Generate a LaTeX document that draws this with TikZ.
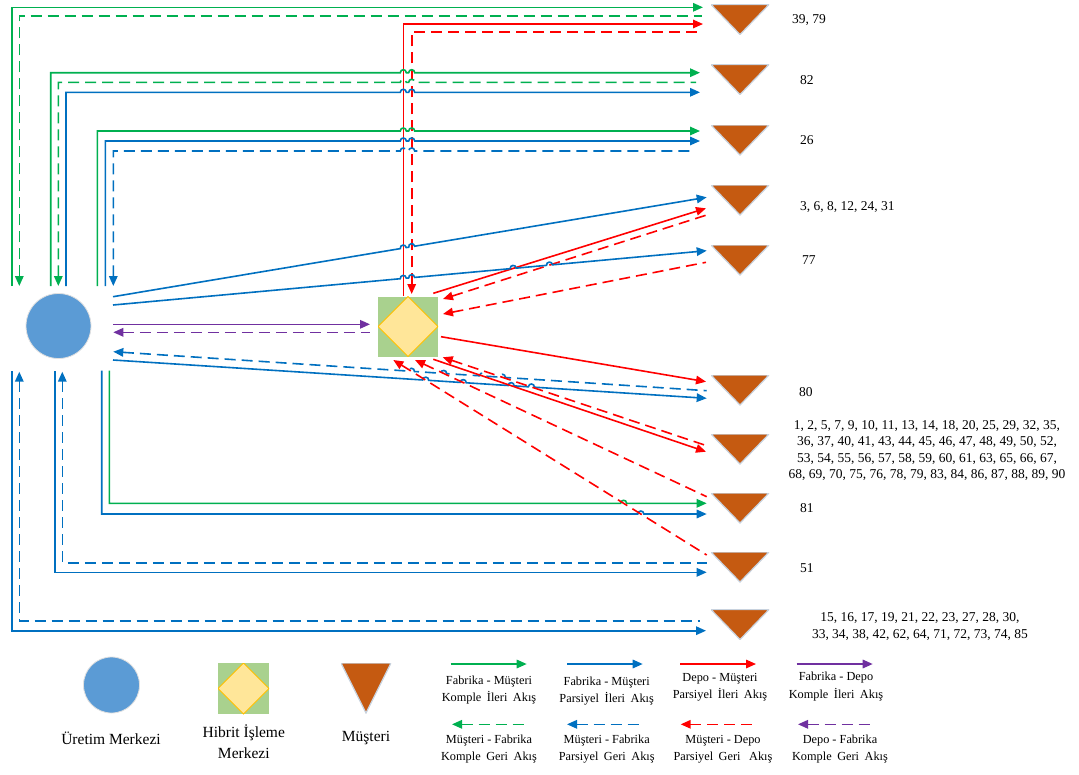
\documentclass[tikz,border=0pt]{standalone}
\usepackage{fontspec}
\setmainfont{Liberation Serif}
\usetikzlibrary{arrows.meta,calc}

\definecolor{cgreen}{HTML}{00B050}
\definecolor{cblue}{HTML}{0070C0}
\definecolor{cred}{HTML}{FF0000}
\definecolor{cpurple}{HTML}{7030A0}
\definecolor{fabfill}{HTML}{5B9BD5}
\definecolor{hybfill}{HTML}{A9D18E}
\definecolor{diafill}{HTML}{FFE699}
\definecolor{diaedge}{HTML}{FFC000}
\definecolor{custfill}{HTML}{C55A11}
\definecolor{custedge}{HTML}{C8D2DE}

\newcommand\legsp{\hspace{0.45em}}

\begin{document}
\begin{tikzpicture}[x=1pt,y=-1pt,
  flow/.style={line width=1.6pt},
  tipF/.style={-{Triangle[length=10pt,width=8.5pt]}},
  tipB/.style={{Triangle[length=10pt,width=8.5pt]}-},
  dsh/.style={dash pattern=on 11pt off 6pt},
  gF/.style={flow,tipF,color=cgreen},
  gB/.style={flow,tipB,dsh,color=cgreen},
  bF/.style={flow,tipF,color=cblue},
  bB/.style={flow,tipB,dsh,color=cblue},
  rF/.style={flow,tipF,color=cred},
  rB/.style={flow,tipB,dsh,color=cred},
  pF/.style={flow,tipF,color=cpurple},
  pB/.style={flow,tipB,dsh,color=cpurple},
  hop/.style n args={3}{insert path={-- ($(#1)!3pt!(#2)$) to[bend left=90,looseness=1.7] ($(#1)!3pt!(#3)$)}},
  fab/.style={circle, minimum size=65pt, inner sep=0, fill=fabfill, draw=black!12, line width=0.8pt},
  hyb/.style={rectangle, minimum size=60pt, inner sep=0, fill=hybfill,
    path picture={\filldraw[fill=diafill, draw=diaedge, line width=1pt]
      (path picture bounding box.north) -- (path picture bounding box.east) --
      (path picture bounding box.south) -- (path picture bounding box.west) -- cycle;}},
  cust/.style={rectangle, minimum width=58pt, minimum height=30pt, inner sep=0,
    path picture={\filldraw[fill=custfill, draw=custedge, line width=1.2pt]
      (path picture bounding box.north west) -- (path picture bounding box.north east) --
      (path picture bounding box.south) -- cycle;}},
  lab/.style={font=\fontsize{13.5}{16.5}\selectfont, inner sep=0},
  leg/.style={font=\fontsize{12.3}{17.3}\selectfont, inner sep=0, align=center},
  shp/.style={font=\fontsize{15.5}{20.7}\selectfont, inner sep=0, align=center},
]
\useasboundingbox (0,0) rectangle (1079,774);
\fill[white] (0,0) rectangle (1079,774);

% ---------- main nodes ----------
\node[fab] (fab) at (58.5,326) {};
\node[hyb] (hyb) at (408,326.5) {};
\node[cust] (m1) at (740,19.5) {};
\node[cust] (m2) at (740,79.5) {};
\node[cust] (m3) at (740,140) {};
\node[cust] (m4) at (740,200) {};
\node[cust] (m5) at (740,260) {};
\node[cust] (m6) at (740,390) {};
\node[cust] (m7) at (740,449) {};
\node[cust] (m8) at (740,508) {};
\node[cust] (m9) at (740,567) {};
\node[cust] (m10) at (740,624.5) {};

% ---------- customer labels ----------
\node[lab, anchor=west] (t1) at (792,20) {39, 79};
\node[lab, anchor=west] (t2) at (800,80) {82};
\node[lab, anchor=west] (t3) at (800,140) {26};
\node[lab, anchor=west] (t4) at (800,207) {3, 6, 8, 12, 24, 31};
\node[lab, anchor=west] (t5) at (802,260) {77};
\node[lab, anchor=west] (t6) at (799,392) {80};
\node[lab, align=center] (t7) at (927,450.5) {1, 2, 5, 7, 9, 10, 11, 13, 14, 18, 20, 25, 29, 32, 35,\\36, 37, 40, 41, 43, 44, 45, 46, 47, 48, 49, 50, 52,\\53, 54, 55, 56, 57, 58, 59, 60, 61, 63, 65, 66, 67,\\68, 69, 70, 75, 76, 78, 79, 83, 84, 86, 87, 88, 89, 90};
\node[lab, anchor=west] (t8) at (800,508) {81};
\node[lab, anchor=west] (t9) at (800,568) {51};
\node[lab, align=center] (t10) at (920,626.5) {15, 16, 17, 19, 21, 22, 23, 27, 28, 30,\\33, 34, 38, 42, 62, 64, 71, 72, 73, 74, 85};

% ---------- connector end points ----------
\coordinate (a1s) at (11.7,286);  \coordinate (a1c) at (11.7,7.3);  \coordinate (a1e) at (703,7.3);
\coordinate (a2s) at (19.3,286);  \coordinate (a2c) at (19.3,15.7); \coordinate (a2e) at (702,15.7);
\coordinate (a3s) at (403.3,296); \coordinate (a3c) at (403.3,24);  \coordinate (a3e) at (703,24);
\coordinate (a4s) at (411.7,294); \coordinate (a4c) at (411.7,31.7);\coordinate (a4e) at (702,31.7);

\coordinate (b1s) at (50.7,286); \coordinate (b1c) at (50.7,72.7); \coordinate (b1e) at (700,72.7);
\coordinate (b2s) at (58.3,286); \coordinate (b2c) at (58.3,82.3); \coordinate (b2e) at (696,82.3);
\coordinate (b3s) at (66,286);   \coordinate (b3c) at (66,92.3);   \coordinate (b3e) at (700,92.3);

\coordinate (c1s) at (97.3,286);  \coordinate (c1c) at (97.3,131);  \coordinate (c1e) at (700,131);
\coordinate (c2s) at (105.3,286); \coordinate (c2c) at (105.3,141); \coordinate (c2e) at (700,141);
\coordinate (c3s) at (113.3,286); \coordinate (c3c) at (113.3,151); \coordinate (c3e) at (695,151);

\coordinate (d1s) at (113,296.7); \coordinate (d1e) at (706.7,197.3);
\coordinate (d2s) at (433.3,293.3); \coordinate (d2e) at (706,208.3);
\coordinate (d3s) at (443,299); \coordinate (d3e) at (706.7,215);

\coordinate (e1s) at (113,305); \coordinate (e1e) at (706.7,250.7);
\coordinate (e2s) at (443,314); \coordinate (e2e) at (706,262.3);

\coordinate (f1s) at (113,324.3);   \coordinate (f1e) at (370,324.3);
\coordinate (f2s) at (113.3,332.3); \coordinate (f2e) at (370,332.3);

\coordinate (g1s) at (113.3,351.7); \coordinate (g1e) at (706.7,390.7);
\coordinate (g2s) at (113,360);     \coordinate (g2e) at (706.7,398.3);
\coordinate (g3s) at (441,336.7);   \coordinate (g3e) at (706,381.7);

\coordinate (h1s) at (433.3,359.3); \coordinate (h1e) at (706,451.7);
\coordinate (h2s) at (442.7,357.3); \coordinate (h2e) at (706.7,445.7);

\coordinate (i1s) at (109.3,370.7); \coordinate (i1c) at (109.3,503.3); \coordinate (i1e) at (706.7,503.3);
\coordinate (i2s) at (101.7,370.7); \coordinate (i2c) at (101.7,514);   \coordinate (i2e) at (706.7,514);
\coordinate (i3s) at (415,360);     \coordinate (i3e) at (706.7,496.7);

\coordinate (j1s) at (62.3,371.7); \coordinate (j1c) at (62.3,562.7); \coordinate (j1e) at (706.7,562.7);
\coordinate (j2s) at (55,371);     \coordinate (j2c) at (55,572.3);   \coordinate (j2e) at (706.7,572.3);
\coordinate (j3s) at (393.3,360);  \coordinate (j3e) at (706.7,555);

\coordinate (k1s) at (19.3,371.7); \coordinate (k1c) at (19.3,621);   \coordinate (k1e) at (700,621);
\coordinate (k2s) at (11.7,371);   \coordinate (k2c) at (11.7,630.7); \coordinate (k2e) at (706,630.7);

% ---------- crossing points (line jumps) ----------
\foreach \n in {b1,b2,b3,c1,c2,c3}{
  \coordinate (x\n a) at (\n c -| a3s);
  \coordinate (x\n b) at (\n c -| a4s);
}
\coordinate (xd1a) at (intersection of d1s--d1e and a3s--a3c);
\coordinate (xd1b) at (intersection of d1s--d1e and a4s--a4c);
\coordinate (xe1a) at (intersection of e1s--e1e and a3s--a3c);
\coordinate (xe1b) at (intersection of e1s--e1e and a4s--a4c);
\coordinate (xe1c) at (intersection of e1s--e1e and d2s--d2e);
\coordinate (xe1d) at (intersection of e1s--e1e and d3s--d3e);
\coordinate (xg1a) at (intersection of g1s--g1e and j3s--j3e);
\coordinate (xg1b) at (intersection of g1s--g1e and i3s--i3e);
\coordinate (xg1c) at (intersection of g1s--g1e and h1s--h1e);
\coordinate (xg1d) at (intersection of g1s--g1e and h2s--h2e);
\coordinate (xg2a) at (intersection of g2s--g2e and j3s--j3e);
\coordinate (xg2b) at (intersection of g2s--g2e and i3s--i3e);
\coordinate (xg2c) at (intersection of g2s--g2e and h1s--h1e);
\coordinate (xg2d) at (intersection of g2s--g2e and h2s--h2e);
\coordinate (xi1) at (intersection of i1c--i1e and j3s--j3e);
\coordinate (xi2) at (intersection of i2c--i2e and j3s--j3e);

% ---------- flows: 39, 79 ----------
\draw[gF] (a1s) -- (a1c) -- (a1e);
\draw[gB] (a2s) -- (a2c) -- (a2e);
\draw[rF] (a3s) -- (a3c) -- (a3e);
\draw[rB] (a4s) -- (a4c) -- (a4e);

% ---------- flows: 82 ----------
\draw[gF] (b1s) -- (b1c) [hop={xb1a}{b1c}{b1e}] [hop={xb1b}{b1c}{b1e}] -- (b1e);
\draw[gB] (b2s) -- (b2c) [hop={xb2a}{b2c}{b2e}] [hop={xb2b}{b2c}{b2e}] -- (b2e);
\draw[bF] (b3s) -- (b3c) [hop={xb3a}{b3c}{b3e}] [hop={xb3b}{b3c}{b3e}] -- (b3e);

% ---------- flows: 26 ----------
\draw[gF] (c1s) -- (c1c) [hop={xc1a}{c1c}{c1e}] [hop={xc1b}{c1c}{c1e}] -- (c1e);
\draw[bF] (c2s) -- (c2c) [hop={xc2a}{c2c}{c2e}] [hop={xc2b}{c2c}{c2e}] -- (c2e);
\draw[bB] (c3s) -- (c3c) [hop={xc3a}{c3c}{c3e}] [hop={xc3b}{c3c}{c3e}] -- (c3e);

% ---------- flows: 3, 6, 8, 12, 24, 31 ----------
\draw[bF] (d1s) [hop={xd1a}{d1s}{d1e}] [hop={xd1b}{d1s}{d1e}] -- (d1e);
\draw[rF] (d2s) -- (d2e);
\draw[rB] (d3s) -- (d3e);

% ---------- flows: 77 ----------
\draw[bF] (e1s) [hop={xe1a}{e1s}{e1e}] [hop={xe1b}{e1s}{e1e}]
  [hop={xe1c}{e1s}{e1e}] [hop={xe1d}{e1s}{e1e}] -- (e1e);
\draw[rB] (e2s) -- (e2e);

% ---------- factory <-> depot ----------
\draw[pF] (f1s) -- (f1e);
\draw[pB] (f2s) -- (f2e);

% ---------- flows: 80 ----------
\draw[bB] (g1s) [hop={xg1a}{g1s}{g1e}] [hop={xg1b}{g1s}{g1e}]
  [hop={xg1c}{g1s}{g1e}] [hop={xg1d}{g1s}{g1e}] -- (g1e);
\draw[bF] (g2s) [hop={xg2a}{g2s}{g2e}] [hop={xg2b}{g2s}{g2e}]
  [hop={xg2c}{g2s}{g2e}] [hop={xg2d}{g2s}{g2e}] -- (g2e);
\draw[rF] (g3s) -- (g3e);

% ---------- flows: large customer group ----------
\draw[rF] (h1s) -- (h1e);
\draw[rB] (h2s) -- (h2e);

% ---------- flows: 81 ----------
\draw[gF] (i1s) -- (i1c) [hop={xi1}{i1c}{i1e}] -- (i1e);
\draw[bF] (i2s) -- (i2c) [hop={xi2}{i2c}{i2e}] -- (i2e);
\draw[rB] (i3s) -- (i3e);

% ---------- flows: 51 ----------
\draw[bB] (j1s) -- (j1c) -- (j1e);
\draw[bF] (j2s) -- (j2c) -- (j2e);
\draw[rB] (j3s) -- (j3e);

% ---------- flows: 15, 16, ... ----------
\draw[bB] (k1s) -- (k1c) -- (k1e);
\draw[bF] (k2s) -- (k2c) -- (k2e);

% ---------- legend: shapes ----------
\node[fab, minimum size=56pt] (lgf) at (111.5,685) {};
\node[hyb, minimum size=51pt] (lgh) at (243.5,688.5) {};
\node[cust, minimum width=50pt, minimum height=50pt] (lgc) at (366,688) {};
\node[shp] (lgft) at (111,738) {Üretim Merkezi};
\node[shp] (lght) at (243.8,741.5) {Hibrit İşleme\\Merkezi};
\node[shp] (lgct) at (366,738) {Müşteri};

% ---------- legend: flows ----------
\coordinate (l1a) at (450.7,664); \coordinate (l1b) at (526.7,664);
\coordinate (l2a) at (567.3,664); \coordinate (l2b) at (642.7,664);
\coordinate (l3a) at (680,664);   \coordinate (l3b) at (756,664);
\coordinate (l4a) at (796.7,664); \coordinate (l4b) at (872.7,664);
\coordinate (l5a) at (452,724.3); \coordinate (l5b) at (528,724.3);
\coordinate (l6a) at (567,724.3); \coordinate (l6b) at (643,724.3);
\coordinate (l7a) at (680.7,724.3); \coordinate (l7b) at (756,724.3);
\coordinate (l8a) at (798,724.3); \coordinate (l8b) at (873,724.3);
\draw[gF] (l1a) -- (l1b);
\draw[bF] (l2a) -- (l2b);
\draw[rF] (l3a) -- (l3b);
\draw[pF] (l4a) -- (l4b);
\draw[gB] (l5a) -- (l5b);
\draw[bB] (l6a) -- (l6b);
\draw[rB] (l7a) -- (l7b);
\draw[pB] (l8a) -- (l8b);

\node[leg] (lt1) at (489,690.3) {Fabrika - Müşteri\\Komple\legsp İleri\legsp Akış};
\node[leg] (lt2) at (606.7,691.3) {Fabrika - Müşteri\\Parsiyel\legsp İleri\legsp Akış};
\node[leg] (lt3) at (720,687) {Depo - Müşteri\\Parsiyel\legsp İleri\legsp Akış};
\node[leg] (lt4) at (836,686.5) {Fabrika - Depo\\Komple\legsp İleri\legsp Akış};
\node[leg] (lt5) at (489,749) {Müşteri - Fabrika\\Komple\legsp Geri\legsp Akış};
\node[leg] (lt6) at (606.7,749) {Müşteri - Fabrika\\Parsiyel\legsp Geri\legsp Akış};
\node[leg] (lt7) at (723,749) {Müşteri - Depo\\Parsiyel\legsp Geri\legsp\ Akış};
\node[leg] (lt8) at (840,749) {Depo - Fabrika\\Komple\legsp Geri\legsp Akış};
\end{tikzpicture}
\end{document}
